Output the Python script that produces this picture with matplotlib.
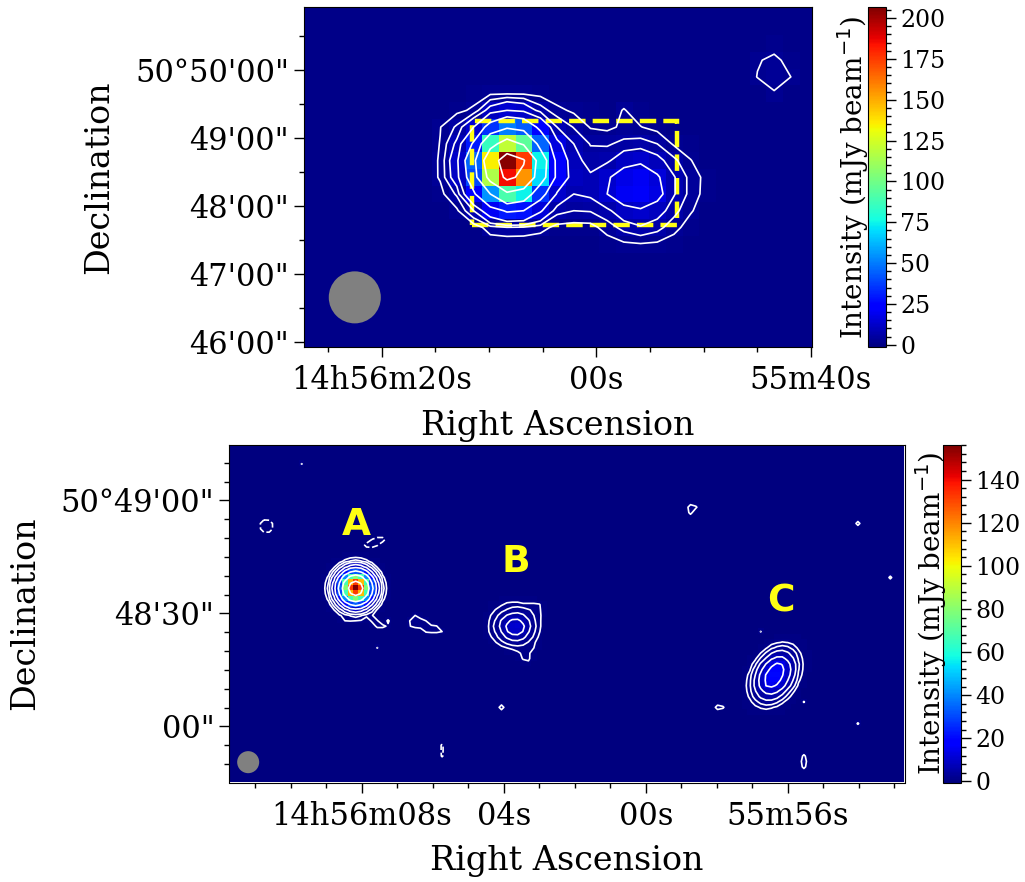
import numpy as np
import matplotlib
matplotlib.use('Agg')
import matplotlib.pyplot as plt
from matplotlib.patches import Ellipse, Rectangle
from matplotlib.ticker import MultipleLocator

plt.rcParams['font.family'] = 'DejaVu Serif'

# top map: 15" pixels, mJy/beam
top_source = [
    [.5, .5, .5, .6, .8, .9, .9, .8, .6, .5, .5, .5, .5, .5, .5, .5, .5, .5, .5],
    [.4, .5, .7, 1.2, 2.1, 2.3, 2.2, 1.7, .9, .6, .5, .5, .8, .5, .5, .5, .5, .5, .5],
    [.5, .9, 1.8, 3.0, 10, 14, 12, 6.5, 3.2, 2.0, 1.2, 1.0, 2.7, 1.1, .8, .6, .5, .5, .5],
    [.6, 2.4, 5.5, 14, 35, 50, 44, 23, 8, 4.8, 2.3, 1.9, 3.0, 2.6, 1.6, 1.0, .6, .5, .5],
    [.7, 2.6, 9, 30, 85, 120, 95, 45, 16, 8, 4.8, 4.6, 5.8, 6.2, 5, 2.1, 1.2, .6, .5],
    [.8, 2.8, 12, 45, 135, 205, 175, 75, 22, 9.5, 6.5, 7.2, 11, 12.5, 9.5, 5.7, 2.6, 1, .5],
    [.7, 2.8, 11, 40, 115, 185, 155, 70, 23, 10, 8.6, 13, 18, 20, 15, 8.3, 4, 1.5, .5],
    [.6, 1.6, 5.5, 25, 55, 90, 75, 35, 13, 8, 8.8, 14, 20, 21, 17, 8.3, 4, 1.3, .5],
    [.5, .8, 2, 8, 20, 30, 28, 15, 6, 5, 5.2, 7, 11, 13, 10, 6, 2.8, .8, .5],
    [.5, .5, .7, 1, 3.8, 4.8, 4.5, 3.5, 1.7, 1.5, 1.6, 3.6, 6, 7.5, 6, 3.4, 1.2, .6, .5],
    [.5, .5, .5, .5, .8, .5, .6, .6, .6, .6, .7, 1.2, 2, 2.3, 2, 1.2, .6, .5, .5],
]
top_knot = [
    [.5, 1.6, .5],
    [2.3, 3.0, 1.8],
    [2.6, 3.4, 2.5],
    [.5, 2.3, .5],
]
top_levels = [2.5, 5, 8, 14, 28, 55, 100, 170]

# bottom map: source cut-outs on a 1.44" grid
source_a = [
    [0, 0, 0, 0, 0, 0, 0, .04, 0, 0, 0, 0, 0, 0, 0],
    [0, 0, 0, .02, .08, .18, .3, .36, .3, .18, .08, .02, 0, 0, 0],
    [0, 0, .03, .15, .5, 1.2, 1.9, 2.3, 1.9, 1.2, .5, .15, .03, 0, 0],
    [0, .02, .15, .71, 2.3, 5.3, 8.9, 10.5, 8.9, 5.3, 2.3, .71, .15, .02, 0],
    [.01, .08, .5, 2.3, 7.5, 17.5, 29, 34, 29, 17.5, 7.5, 2.3, .5, .08, .01],
    [.02, .18, 1.2, 5.3, 17.5, 40, 67, 79, 67, 40, 17.5, 5.3, 1.2, .18, .02],
    [.03, .3, 1.9, 8.9, 29, 67, 111, 132, 111, 67, 29, 8.9, 1.9, .3, .03],
    [.04, .36, 2.3, 10.5, 34, 79, 132, 156, 132, 79, 34, 10.5, 2.3, .36, .04],
    [.03, .3, 1.9, 8.9, 29, 67, 111, 132, 111, 67, 29, 8.9, 1.9, .3, .03],
    [.02, .18, 1.2, 5.3, 17.5, 40, 67, 79, 67, 40, 17.5, 5.3, 1.2, .18, .02],
    [.01, .08, .5, 2.3, 7.5, 17.5, 29, 34, 29, 17.5, 7.5, 2.3, .5, .08, .01],
    [0, .02, .15, .9, 2.3, 5.3, 8.9, 10.5, 8.9, 5.3, 2.3, .71, .15, .02, 0],
    [0, 0, .03, .4, .8, 1.2, 1.9, 2.3, 1.9, 1.2, 1.0, .15, .03, 0, 0],
    [0, 0, 0, .02, .3, .9, .95, .9, .8, .18, 1.1, 1.0, .1, .05, 0],
    [0, 0, 0, 0, 0, 0, 0, .04, 0, 0, .2, 1.2, 1.2, .7, 0],
]
source_b = [
    [0, .1, .1, .2, .5, .4, .4, .2, .2, .2, 0, 0],
    [.1, .2, .4, .8, 1.1, 1.3, 1.3, 1.1, 1.1, 1.1, 1.0, .2],
    [.1, .5, 1.0, 1.4, 1.9, 2.3, 2.5, 2.3, 1.9, 1.6, 1.1, .2],
    [.2, .9, 1.5, 2.4, 3.7, 4.4, 4.6, 3.9, 2.6, 1.8, 1.2, .2],
    [.2, 1.2, 2.0, 3.9, 6.2, 8.0, 8.2, 6.2, 3.9, 2.0, 1.2, .1],
    [.3, 1.3, 2.3, 4.4, 7.8, 10.5, 11, 8, 4.5, 2.2, 1.2, .1],
    [.3, 1.2, 2.0, 3.7, 6.8, 9.3, 9.6, 7, 3.8, 2.0, 1.0, .1],
    [.2, .8, 1.5, 2.5, 4, 5.2, 5.4, 4.3, 2.6, 1.6, .7, 0],
    [.1, .3, .9, 1.5, 2.1, 2.6, 2.7, 2.3, 1.7, 1.1, .3, 0],
    [0, 0, .2, .6, .9, 1.1, 1.3, 1.3, 1.2, .9, .2, 0],
    [0, 0, 0, .1, .2, .4, .7, 1.1, 1.1, .3, 0, 0],
    [0, 0, 0, 0, 0, .1, .3, 1.0, 1.1, .2, 0, 0],
    [0, 0, 0, 0, 0, 0, 0, .3, .6, .1, 0, 0],
]
source_c = [
    [0, 0, 0, 0, 0, .05, .28, .36, .35, .27, .15, .08, 0],
    [0, 0, 0, 0, .25, .53, .79, .96, .88, .65, .35, .16, 0],
    [0, 0, 0, .34, .77, 1.5, 2.1, 2.4, 2.1, 1.4, .7, .3, 0],
    [0, 0, .32, .93, 2, 3.6, 4.7, 5, 4, 2.6, 1.2, .48, .14],
    [0, .2, .72, 2, 3.9, 6.7, 8.4, 8.3, 6.2, 3.8, 1.6, .63, .17],
    [0, .46, 1.5, 4, 7.4, 11.8, 15.5, 14, 8.7, 5, 2, .7, .18],
    [.23, .8, 2.5, 6, 10.6, 17, 19, 16, 9.8, 5.3, 1.9, .65, .15],
    [.38, 1.25, 3.6, 8.1, 15, 20, 20, 15, 9.1, 4.6, 1.56, .49, .11],
    [.49, 1.5, 4.2, 8.8, 15.5, 19, 17.5, 12.6, 7.3, 3.5, 1.1, .33, .09],
    [.56, 1.6, 4.2, 8.3, 14.6, 16, 13.5, 9.3, 5, 2.3, .67, .19, 0],
    [.52, 1.4, 3.4, 6.2, 8.5, 9.3, 8, 5.2, 2.6, 1.1, .3, 0, 0],
    [.42, 1.1, 2.4, 4.1, 5.4, 5.5, 4.4, 2.7, 1.3, .51, .13, 0, 0],
    [.27, .67, 1.4, 2.2, 2.7, 2.6, 2, 1.1, .5, .19, 0, 0, 0],
    [.15, .35, .67, 1, 1.15, 1, .72, .39, .16, 0, 0, 0, 0],
    [0, .16, .29, .41, .45, .37, .25, .12, 0, 0, 0, 0, 0],
]
# faint knots and noise peaks, grid column / row / flux
knot_col = [33, 34, 35, 36, 33, 34, 35, 36, 37, 38, 34, 35, 36, 37, 38, 39,
            6, 6, 7, 7, 25, 26, 27, 28, 27, 26, 39, 39, 39,
            50, 90, 91, 85, 85, 86, 116, 122, 106, 106, 106, 98, 106, 116, 13, 27, 29]
knot_row = [32, 32, 32, 32, 33, 33, 33, 33, 33, 33, 31, 31, 34, 34, 34, 34,
            14, 15, 14, 15, 18, 18, 17, 17, 18, 17, 55, 56, 57,
            48, 48, 48, 11, 12, 11, 14, 24, 58, 57, 59, 34, 47, 51, 3, 37, 32]
knot_flux = [.9, 1.6, 1.2, .9, .85, 1.2, 1.4, 1.3, 1.1, .95, .9, .5, 1.0, 1.1, 1.1, .9,
             -2.6, -2.4, -2.2, -2.3, -1.4, -1.6, -1.5, -1.5, -1.0, -.95, -1.1, -1.1, -1.05,
             1.6, 1.5, 1.1, 1.7, 1.3, 1.1, 1.4, 1.2, 1.7, 1.2, 1.3, .95, 1.0, 1.05, .95, .95, 1.1]
bottom_levels = [-.9, .9, 1.8, 3.6, 7.2, 14.4, 28.8, 57.6, 115]

W, H = 1025, 882


def add_axes_px(left, top, right, bottom):
    return fig.add_axes([left / W, 1 - bottom / H, (right - left) / W, (bottom - top) / H])


def style_axes(ax, xmaj, xlab, xmin, ymaj, ylab, ymin):
    ax.set_xticks(xmaj)
    ax.set_xticklabels(xlab)
    ax.set_yticks(ymaj)
    ax.set_yticklabels(ylab)
    ax.xaxis.set_minor_locator(MultipleLocator(xmin))
    ax.yaxis.set_minor_locator(MultipleLocator(ymin))
    ax.tick_params(which='major', length=7, width=1.0, labelsize=22)
    ax.tick_params(axis='x', which='major', pad=6)
    ax.tick_params(which='minor', length=3.5, width=1.0)
    ax.set_xlabel('Right Ascension', fontsize=24, labelpad=10)
    ax.set_ylabel('Declination', fontsize=24, labelpad=14)


def add_bar(im, left, top, right, bottom, step, minor, pad):
    cax = add_axes_px(left, top, right, bottom)
    cb = fig.colorbar(im, cax=cax)
    cb.set_ticks(np.arange(0, im.get_clim()[1], step))
    cb.ax.yaxis.set_minor_locator(MultipleLocator(minor))
    cb.ax.tick_params(which='major', length=7, width=1.0, labelsize=17)
    cb.ax.tick_params(which='minor', length=3.5, width=1.0)
    cb.ax.yaxis.set_label_position('left')
    cb.set_label(r'Intensity (mJy beam$^{-1}$)', fontsize=20, labelpad=pad)
    return cb


fig = plt.figure(figsize=(W / 100, H / 100), dpi=100)

# top panel
top_map = np.full((21, 31), 0.5)
top_map[4:15, 7:26] = top_source
top_map[2:6, 27:30] = top_knot
ra_top = 26.99 - 1.556 * np.arange(31)
dec_top = 50.886 - 0.246 * np.arange(21)
ax1 = add_axes_px(303.5, 7, 811.5, 347)
im1 = ax1.imshow(top_map, cmap='jet', vmin=-1.4, vmax=206.8, aspect='auto', interpolation='nearest',
                 extent=[ra_top[0] + .778, ra_top[-1] - .778, dec_top[-1] - .123, dec_top[0] + .123])
ax1.contour(ra_top, dec_top, top_map, levels=top_levels, colors='white', linewidths=1.2)
box_ra = [11.6, -7.5]
box_dec = [47.73, 49.25]
ax1.add_patch(Rectangle((box_ra[0], box_dec[0]), box_ra[1] - box_ra[0], box_dec[1] - box_dec[0],
                        fill=False, ec='#ffff14', lw=3.2, ls='--'))
ax1.add_patch(Ellipse((22.5, 46.66), 4.85, .765, fc='gray', ec='none'))
ax1.set_xlim(27.28, -20.06)
ax1.set_ylim(45.93, 50.93)
style_axes(ax1, [20, 0, -20], ['14h56m20s', '00s', '55m40s'], 5,
           [50, 49, 48, 47, 46], ['50°50\'00"', '49\'00"', '48\'00"', '47\'00"', '46\'00"'], .5)
add_bar(im1, 868, 7, 885.5, 347, 25, 5, -2)

# bottom panel
bottom_map = np.zeros((63, 125))
bottom_map[19:34, 16:31] = source_a
bottom_map[28:41, 47:59] = source_b
bottom_map[35:50, 95:108] = source_c
for c, r, f in zip(knot_col, knot_row, knot_flux):
    bottom_map[r, c] = f
ra_bot = 11.67 - 0.1521 * np.arange(125)
dec_bot = 73.98 - 1.436 * np.arange(63)
ax2 = add_axes_px(229, 445, 905, 782.5)
im2 = ax2.imshow(bottom_map, cmap='jet', vmin=-.5, vmax=156, aspect='auto', interpolation='nearest',
                 extent=[ra_bot[0] + .076, ra_bot[-1] - .076, dec_bot[-1] - .718, dec_bot[0] + .718])
ax2.contour(ra_bot, dec_bot, bottom_map, levels=bottom_levels, colors='white', linewidths=1.2)
ax2.add_patch(Ellipse((11.2, -9.5), .62, 5.85, fc='gray', ec='none'))
for name, ra, dec in zip(['A', 'B', 'C'], [8.15, 3.65, -3.8], [53.5, 43.7, 33.2]):
    ax2.text(ra, dec, name, color='#ffff14', fontsize=27, fontweight='bold', family='DejaVu Sans',
             ha='center', va='center')
ax2.set_xlim(11.74, -7.30)
ax2.set_ylim(-14.9, 74.7)
style_axes(ax2, [8, 4, 0, -4], ['14h56m08s', '04s', '00s', '55m56s'], 1,
           [60, 30, 0], ['50°49\'00"', '48\'30"', '00"'], 5)
add_bar(im2, 943, 445, 960.5, 782.5, 20, 4, -4)

fig.savefig('out.png', dpi=100)
